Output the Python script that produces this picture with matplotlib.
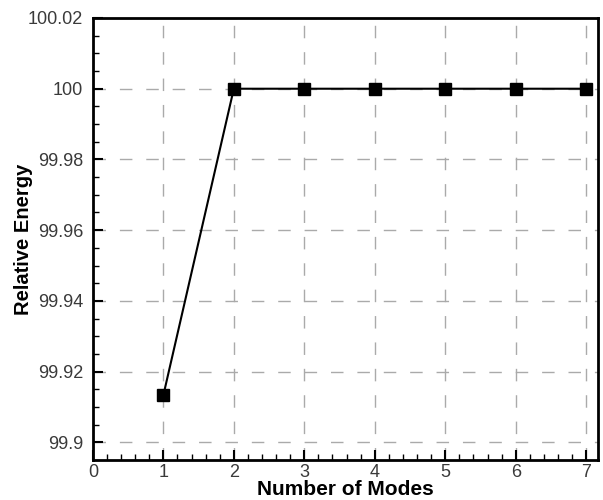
import matplotlib.pyplot as plt
from matplotlib.ticker import MultipleLocator, FixedLocator

plt.rcParams['font.family'] = ['Liberation Sans', 'DejaVu Sans']

# data
modes = [1, 2, 3, 4, 5, 6, 7]
energy = [99.9133, 100.0, 100.0, 100.0, 100.0, 100.0, 100.0]

ytick_vals = [99.9, 99.92, 99.94, 99.96, 99.98, 100.0, 100.02]
ytick_labels = ['99.9', '99.92', '99.94', '99.96', '99.98', '100', '100.02']

fig = plt.figure(figsize=(6.03, 5), dpi=100)
ax = fig.add_axes([0.154, 0.08, 0.838, 0.884])

ax.plot(modes, energy, color='black', lw=1.5, marker='s', ms=8,
        markerfacecolor='black', zorder=3, clip_on=False)

ax.set_xlim(0, 7.17)
ax.set_ylim(99.895, 100.02)
ax.xaxis.set_major_locator(MultipleLocator(1))
ax.xaxis.set_minor_locator(MultipleLocator(0.2))
ax.yaxis.set_major_locator(FixedLocator(ytick_vals))
ax.set_yticklabels(ytick_labels)
ax.yaxis.set_minor_locator(MultipleLocator(0.005))

ax.tick_params(which='major', direction='in', length=7, width=1.5,
               labelsize=13, colors='black', labelcolor='#3a3a3a')
ax.tick_params(which='minor', direction='in', length=4, width=1)
ax.tick_params(axis='y', pad=7)
ax.tick_params(axis='x', pad=3)

ax.grid(True, which='major', linestyle=(0, (9, 10)), color='#aaaaaa', lw=1)
for s in ax.spines.values():
    s.set_linewidth(2)

ax.set_xlabel('Number of Modes', fontsize=15, fontweight='bold')
ax.set_ylabel('Relative Energy', fontsize=14.5, fontweight='bold')
ax.xaxis.set_label_coords(0.5, -0.045)
ax.yaxis.set_label_coords(-0.119, 0.5)

fig.savefig('out.png', dpi=100)
